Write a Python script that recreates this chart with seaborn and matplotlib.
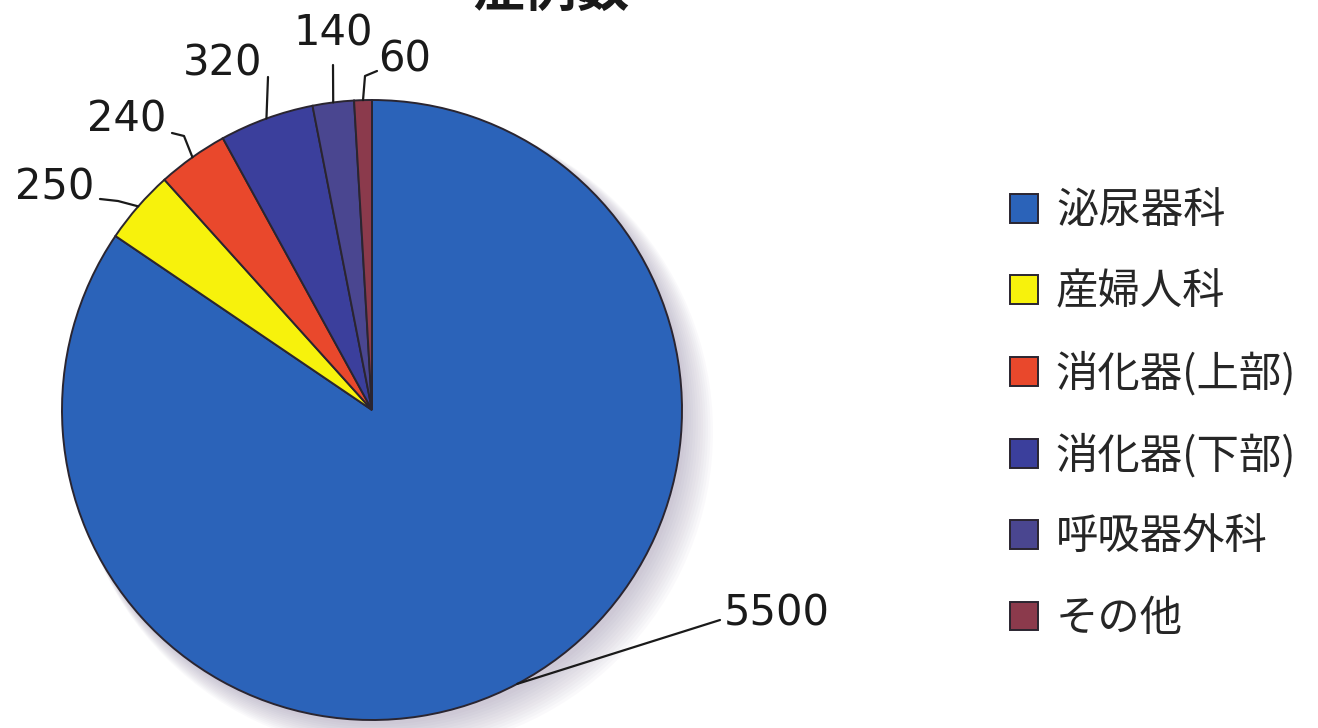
import numpy as np
import matplotlib
matplotlib.use("Agg")
import matplotlib.pyplot as plt
from matplotlib.patches import Circle
import seaborn as sns

# ---------------------------------------------------------------------------
# Data
# ---------------------------------------------------------------------------
categories = ["泌尿器科", "産婦人科", "消化器(上部)", "消化器(下部)", "呼吸器外科", "その他"]
counts = [5500, 250, 240, 320, 140, 60]
colors = ["#2b63b9", "#f7f20c", "#e9482c", "#3b3f9c", "#4a4690", "#8b3a4c"]
title = "症例数"

# layout of the value labels (pixel coords in the 1318x728 picture)
# leader line: wedge edge -> optional elbow -> line end ; text anchored at baseline
line_end = [(720, 620), (100, 199), (172, 133), (268, 77), (333, 65), (377, 71)]
elbow = [None, (118, 201), (184, 136), None, None, (365, 76)]
text_at = [(724, 626), (94, 200), (166, 132), (262, 75), (333, 45), (378, 72)]
text_ha = ["left", "right", "right", "right", "center", "left"]

# ---------------------------------------------------------------------------
# Style
# ---------------------------------------------------------------------------
sns.set_theme(style="white")
plt.rcParams["font.family"] = ["Noto Sans CJK JP", "DejaVu Sans"]

W, H = 1318, 728
CX, CY, R = 372, 410, 310

fig = plt.figure(figsize=(W / 100, H / 100), dpi=100)
fig.patch.set_facecolor("white")
ax = fig.add_axes([(CX - R) / W, (H - CY - R) / H, 2 * R / W, 2 * R / H])
ax.axis("off")


def px(p):
    """picture pixel -> pie data coords"""
    return ((p[0] - CX) / R, (CY - p[1]) / R)


# soft shadow to the lower right
for i in range(12):
    ax.add_patch(Circle((0.012 + 0.005 * i, -0.015 - 0.005 * i), 1.0 + 0.003 * i,
                        color="#8a7fa0", alpha=0.04, lw=0, zorder=0, clip_on=False))

wedges, _ = ax.pie(counts, colors=colors, startangle=90, counterclock=False,
                   radius=1.0, frame=False,
                   wedgeprops=dict(edgecolor="#2a2530", linewidth=1.4))
ax.set_xlim(-1, 1)
ax.set_ylim(-1, 1)
ax.set_aspect("auto")

# value labels with leader lines
for w, val, le, ep, ta, ha in zip(wedges, counts, line_end, elbow, text_at, text_ha):
    mid = np.deg2rad((w.theta1 + w.theta2) / 2)
    pts = [(np.cos(mid), np.sin(mid))]
    if ep is not None:
        pts.append(px(ep))
    pts.append(px(le))
    xs, ys = zip(*pts)
    ax.plot(xs, ys, color="#1a1a1a", lw=1.6, clip_on=False, zorder=5,
            solid_capstyle="round", solid_joinstyle="round")
    tx, ty = px(ta)
    ax.text(tx, ty, str(val), ha=ha, va="baseline", fontsize=30, color="#1a1a1a",
            family=["DejaVu Sans"], clip_on=False)

# legend
fig.legend(wedges, categories, loc="upper left",
           bbox_to_anchor=(989 / W, 1 - 168 / H), frameon=False,
           fontsize=30.5, handlelength=0.66, handleheight=0.66,
           handletextpad=0.42, labelspacing=0.88, borderpad=0)

# title (cut off by the top edge in the original)
fig.text(551 / W, 1 - 17 / H, title, ha="center", va="bottom",
         fontsize=38, fontweight="bold", color="#1a1a1a")

plt.savefig("out.png", dpi=100, facecolor="white")
plt.close()
